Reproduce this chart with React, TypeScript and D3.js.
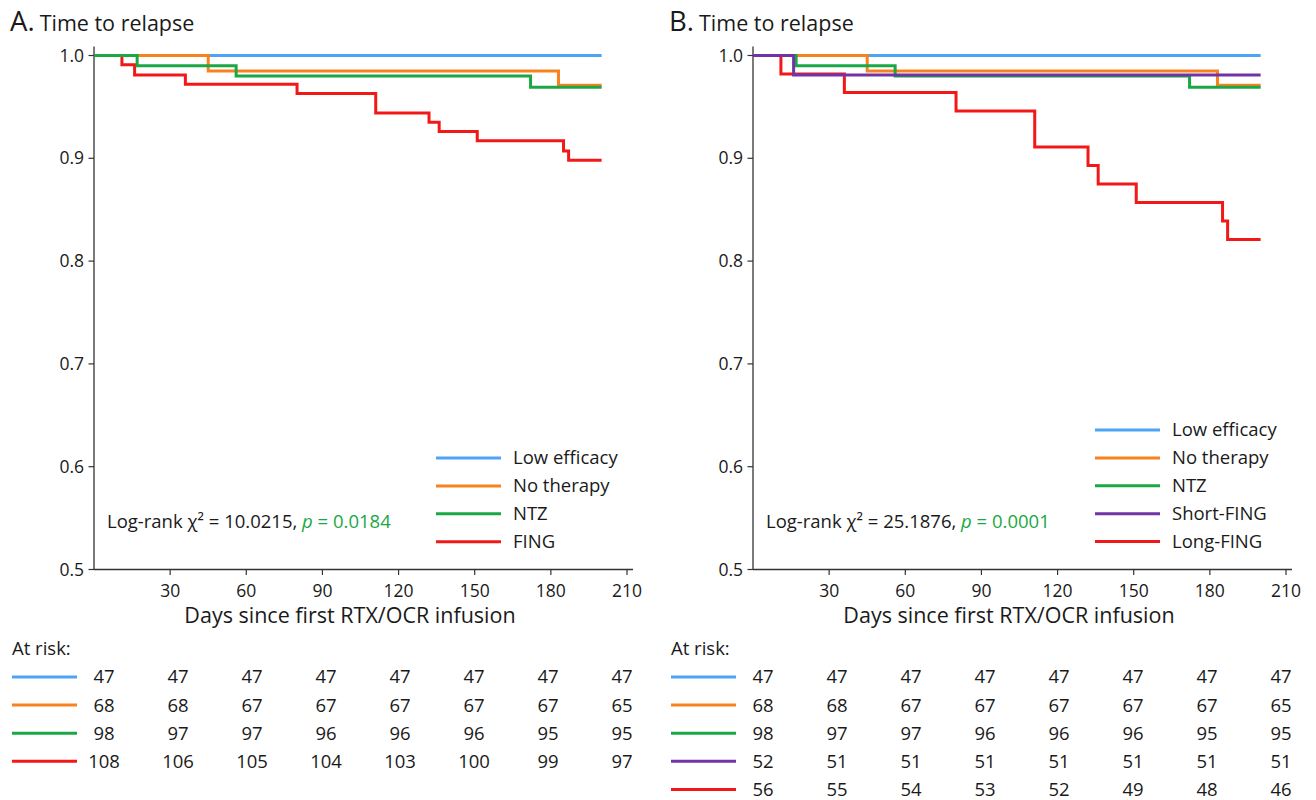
import * as d3 from "d3";
import React from "react";

// tick labels
const dayTicks = [30, 60, 90, 120, 150, 180, 210];
const survTicks = [0.5, 0.6, 0.7, 0.8, 0.9, 1.0];

// survival curves (days, survival probability)
const lowEffTimes = [0, 200];
const lowEffSurv = [1, 1];
const noTherTimes = [0, 45, 183, 200];
const noTherSurv = [1, 0.985, 0.971, 0.971];
const ntzTimes = [0, 17, 56, 172, 200];
const ntzSurv = [1, 0.99, 0.98, 0.969, 0.969];
const fingTimes = [0, 11, 16, 36, 80, 111, 132, 136, 151, 185, 187, 200];
const fingSurv = [1, 0.991, 0.981, 0.972, 0.963, 0.944, 0.935, 0.926, 0.917, 0.907, 0.898, 0.898];
const shortFingTimes = [0, 16, 200];
const shortFingSurv = [1, 0.981, 0.981];
const longFingTimes = [0, 11, 36, 80, 111, 132, 136, 151, 185, 187, 200];
const longFingSurv = [1, 0.982, 0.964, 0.946, 0.911, 0.893, 0.875, 0.857, 0.839, 0.821, 0.821];

// numbers at risk
const lowEffRisk = [47, 47, 47, 47, 47, 47, 47, 47];
const noTherRisk = [68, 68, 67, 67, 67, 67, 67, 65];
const ntzRisk = [98, 97, 97, 96, 96, 96, 95, 95];
const fingRisk = [108, 106, 105, 104, 103, 100, 99, 97];
const shortFingRisk = [52, 51, 51, 51, 51, 51, 51, 51];
const longFingRisk = [56, 55, 54, 53, 52, 49, 48, 46];

const BLUE = "#4fa3f5";
const ORANGE = "#f7821f";
const GREEN = "#1aa845";
const RED = "#f21818";
const PURPLE = "#7233a6";
const INK = "#1a1a1a";
const FONT = "'Open Sans', 'Noto Sans', sans-serif";

type Series = { name: string; color: string; times: number[]; surv: number[]; risk: number[] };

const panelA: Series[] = [
  { name: "Low efficacy", color: BLUE, times: lowEffTimes, surv: lowEffSurv, risk: lowEffRisk },
  { name: "No therapy", color: ORANGE, times: noTherTimes, surv: noTherSurv, risk: noTherRisk },
  { name: "NTZ", color: GREEN, times: ntzTimes, surv: ntzSurv, risk: ntzRisk },
  { name: "FING", color: RED, times: fingTimes, surv: fingSurv, risk: fingRisk },
];
const panelB: Series[] = [
  { name: "Low efficacy", color: BLUE, times: lowEffTimes, surv: lowEffSurv, risk: lowEffRisk },
  { name: "No therapy", color: ORANGE, times: noTherTimes, surv: noTherSurv, risk: noTherRisk },
  { name: "NTZ", color: GREEN, times: ntzTimes, surv: ntzSurv, risk: ntzRisk },
  { name: "Short-FING", color: PURPLE, times: shortFingTimes, surv: shortFingSurv, risk: shortFingRisk },
  { name: "Long-FING", color: RED, times: longFingTimes, surv: longFingSurv, risk: longFingRisk },
];

const Panel = ({ left, letter, series, drawOrder, chi, p, legendTop }: {
  left: number; letter: string; series: Series[]; drawOrder: number[]; chi: string; p: string; legendTop: number;
}) => {
  const x0 = left + 84;
  const x = d3.scaleLinear().domain([0, 210]).range([x0, x0 + 533]);
  const y = d3.scaleLinear().domain([0.5, 1]).range([569.5, 55.5]);

  const line = d3
    .line<[number, number]>()
    .x((d) => x(d[0]))
    .y((d) => y(d[1]))
    .curve(d3.curveStepAfter);

  const colX = (i: number) => left + 94 + i * 74;

  return (
    <g>
      {/* title */}
      <text x={left} y={31} fill={INK} fontFamily={FONT}>
        <tspan fontSize={27.5}>{letter}.</tspan>
        <tspan fontSize={21.5} dx={5}>Time to relapse</tspan>
      </text>

      {/* axes */}
      <line x1={x0} x2={x0} y1={y(1) - 9} y2={y(0.5)} stroke="#333" strokeWidth={1.3} />
      <line x1={x0} x2={x(210) + 6} y1={y(0.5)} y2={y(0.5)} stroke="#333" strokeWidth={1.3} />
      {survTicks.map((t) => (
        <g key={t}>
          <line x1={x0 - 5.5} x2={x0} y1={y(t)} y2={y(t)} stroke="#333" strokeWidth={1.2} />
          <text x={x0 - 10} y={y(t)} dy="0.35em" textAnchor="end" fontSize={17.5} fill={INK} fontFamily={FONT}>
            {t.toFixed(1)}
          </text>
        </g>
      ))}
      {dayTicks.map((t) => (
        <g key={t}>
          <line x1={x(t)} x2={x(t)} y1={y(0.5)} y2={y(0.5) + 5.5} stroke="#333" strokeWidth={1.2} />
          <text x={x(t)} y={597} textAnchor="middle" fontSize={17.5} fill={INK} fontFamily={FONT}>
            {t}
          </text>
        </g>
      ))}
      <text x={left + 340} y={623} textAnchor="middle" fontSize={21.5} fill={INK} fontFamily={FONT}>
        Days since first RTX/OCR infusion
      </text>

      {/* curves */}
      {drawOrder.map((i) => {
        const s = series[i];
        const pts = s.times.map((t, k) => [t, s.surv[k]] as [number, number]);
        return <path key={s.name} d={line(pts) ?? ""} fill="none" stroke={s.color} strokeWidth={3} />;
      })}

      {/* legend */}
      {series.map((s, i) => {
        const ly = legendTop + i * 27.9;
        return (
          <g key={s.name}>
            <line x1={left + 426} x2={left + 491} y1={ly} y2={ly} stroke={s.color} strokeWidth={3} />
            <text x={left + 503} y={ly} dy="0.35em" fontSize={18.5} fill={INK} fontFamily={FONT}>
              {s.name}
            </text>
          </g>
        );
      })}

      {/* log-rank */}
      <text x={left + 97} y={522} dy="0.35em" fontSize={18.5} fill={INK} fontFamily={FONT}>
        {`Log-rank \u03c7\u00b2 = ${chi}, `}
        <tspan fill={GREEN} fontStyle="italic">p</tspan>
        <tspan fill={GREEN}>{` = ${p}`}</tspan>
      </text>

      {/* at risk table */}
      <text x={left + 2} y={649} dy="0.35em" fontSize={18.5} fill={INK} fontFamily={FONT}>
        At risk:
      </text>
      {series.map((s, i) => {
        const ry = 677 + i * 28.1;
        return (
          <g key={s.name}>
            <line x1={left + 2} x2={left + 67} y1={ry} y2={ry} stroke={s.color} strokeWidth={3} />
            {s.risk.map((n, j) => (
              <text key={j} x={colX(j)} y={ry} dy="0.35em" textAnchor="middle" fontSize={18.5} fill={INK} fontFamily={FONT}>
                {n}
              </text>
            ))}
          </g>
        );
      })}
    </g>
  );
};

export default function App() {
  return (
    <svg
      width={1316}
      height={800}
      viewBox="0 0 1316 800"
      style={{ position: "absolute", left: 0, top: 0, background: "#fff" }}
    >
      <rect width={1316} height={800} fill="#fff" />
      <Panel left={10} letter="A" series={panelA} drawOrder={[0, 1, 3, 2]} chi="10.0215" p="0.0184" legendTop={458} />
      <Panel left={669} letter="B" series={panelB} drawOrder={[0, 1, 2, 4, 3]} chi="25.1876" p="0.0001" legendTop={430} />
    </svg>
  );
}
